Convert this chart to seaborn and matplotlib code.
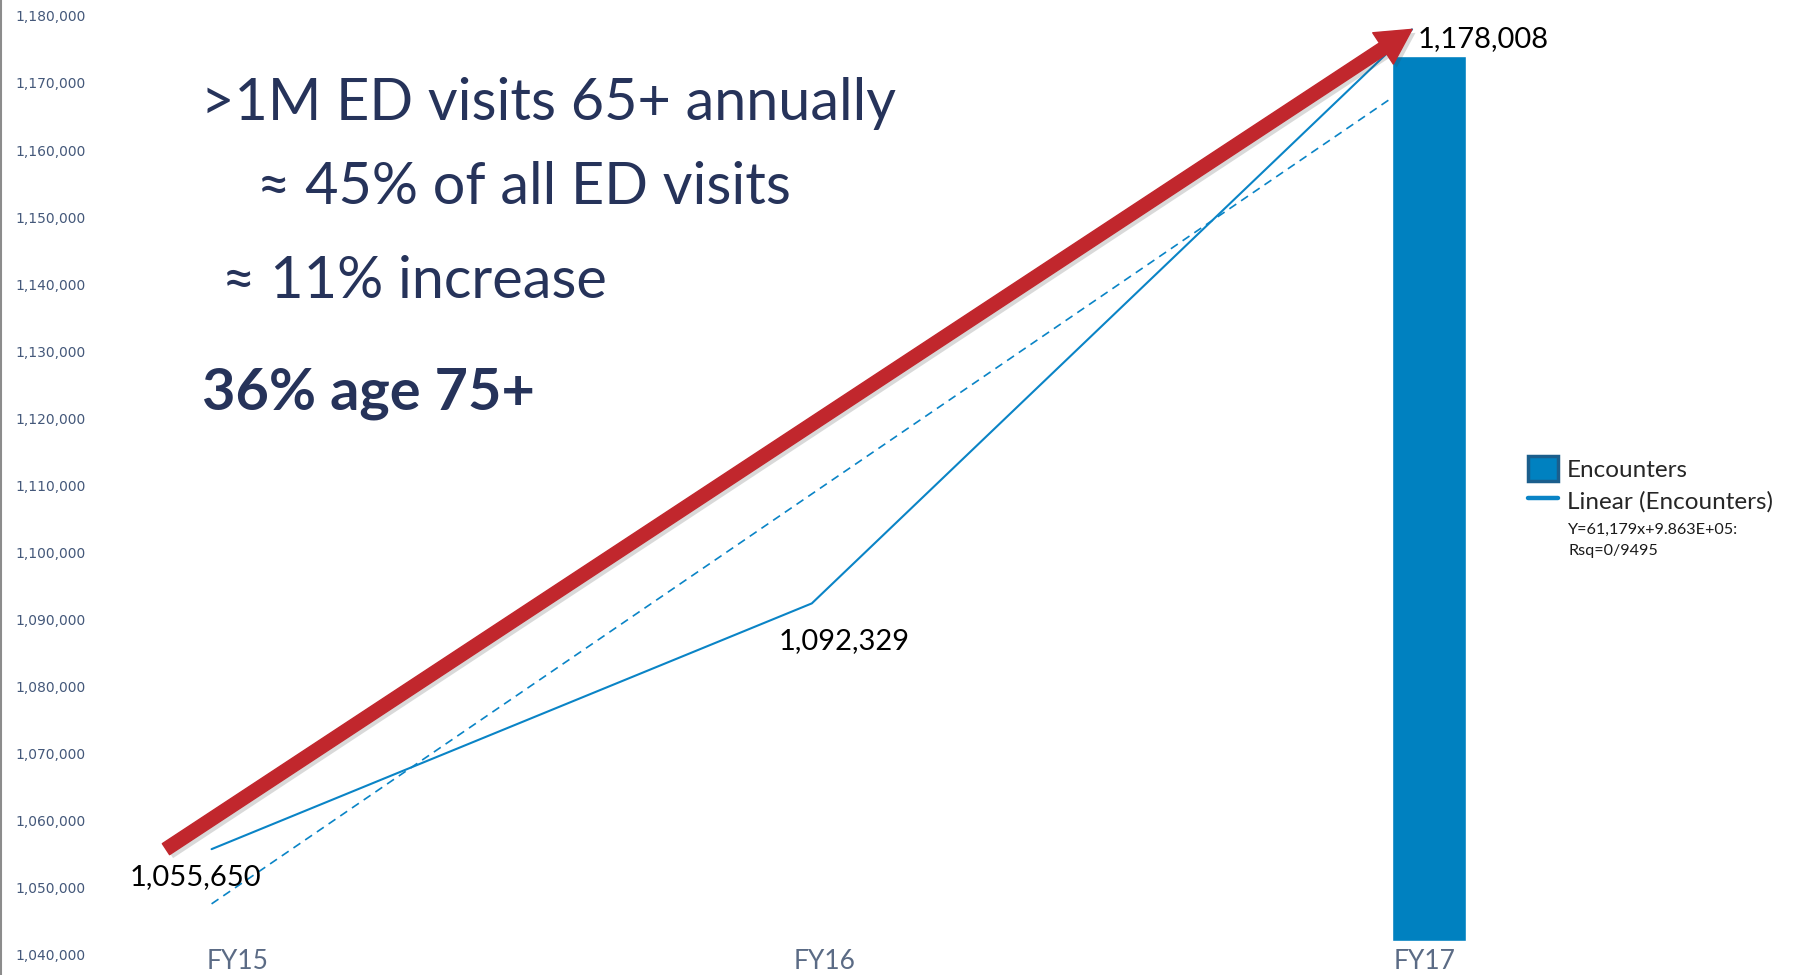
import numpy as np
import pandas as pd
import matplotlib
matplotlib.use("Agg")
import matplotlib.pyplot as plt
import seaborn as sns
from matplotlib import patheffects as pe
from matplotlib.patches import Patch
from matplotlib.lines import Line2D
from matplotlib.ticker import FuncFormatter
from matplotlib.transforms import ScaledTranslation

# ---- data ----
fiscal_years = ["FY15", "FY16", "FY17"]
encounters = [1055650, 1092329, 1178008]
bar_base = 1041900
bar_top = 1174000
y_ticks = list(range(1040000, 1180001, 10000))
headline = [">1M ED visits 65+ annually", "\u2248 45% of all ED visits", "\u2248 11% increase"]
highlight = "36% age 75+"
legend_labels = ["Encounters", "Linear (Encounters)"]
trend_note = ["Y=61,179x+9.863E+05:", "Rsq=0/9495"]

# ---- style ----
sns.set_theme(style="white")
plt.rcParams["font.family"] = ["Lato", "DejaVu Sans"]

BAR_BLUE = "#0081C0"
LINE_BLUE = "#0A84C6"
RED = "#C1272D"
NAVY = "#26335A"

W, H = 1795, 975
fig = plt.figure(figsize=(W / 100, H / 100), dpi=100)
ax = fig.add_axes([0.0006, 0, 0.9994, 1])

x = np.arange(len(fiscal_years))
df = pd.DataFrame({"x": x, "encounters": encounters})

# linear trend (dashed) fitted through the three years
sns.regplot(data=df, x="x", y="encounters", ci=None, scatter=False, truncate=True,
            line_kws=dict(color=LINE_BLUE, lw=1.2, ls=(0, (5, 3.5)), zorder=2), ax=ax)

# FY17 encounters column
ax.bar(x[-1] + 0.028, bar_top - bar_base, bottom=bar_base, width=0.124,
       color=BAR_BLUE, zorder=3)

# yearly encounters line
sns.lineplot(data=df, x="x", y="encounters", color=LINE_BLUE, lw=1.5, ax=ax, zorder=4)

# growth arrow
ax.annotate("", xy=(x[-1], encounters[-1]), xytext=(x[0] - 0.076, encounters[0]),
            arrowprops=dict(arrowstyle="simple,head_length=2.5,head_width=2.7,tail_width=0.95",
                            mutation_scale=10, color=RED, shrinkA=0, shrinkB=0,
                            path_effects=[pe.SimplePatchShadow(offset=(2.5, -2.5), alpha=0.2,
                                                               shadow_rgbFace="#444444"),
                                          pe.Normal()]),
            zorder=5)

# value labels
label_offsets = [(-11.5, -20, "center"), (23, -27, "center"), (4, -7, "left")]
for xi, v, (dx, dy, ha) in zip(x, encounters, label_offsets):
    ax.annotate(f"{v:,}", xy=(xi, v), xytext=(dx, dy), textcoords="offset points",
                ha=ha, va="center", fontsize=21, color="black", zorder=6)

# axes
ax.set_xlim(-0.3507, 2.638)
ax.set_ylim(1036866, 1182388)
ax.set_yticks(y_ticks)
ax.yaxis.set_major_formatter(FuncFormatter(lambda v, p: f"{v:,.0f}"))
ax.set_xticks(x, fiscal_years)
ax.set_xlabel("")
ax.set_ylabel("")
ax.tick_params(axis="y", pad=-10, length=0, labelsize=10, labelcolor="#44587A")
ax.tick_params(axis="x", pad=-18.5, length=0, labelsize=19, labelcolor="#5B6B85")
for lbl in ax.get_yticklabels():
    lbl.set_ha("left")
    lbl.set_family("DejaVu Sans")
# nudge the year labels to the right of their points
for lbl, shift in zip(ax.get_xticklabels(), (19, 9, 9)):
    lbl.set_transform(lbl.get_transform() + ScaledTranslation(shift / 72, 0, fig.dpi_scale_trans))
for side in ("top", "right", "bottom"):
    ax.spines[side].set_visible(False)
ax.spines["left"].set_color("#8C8C8C")
ax.spines["left"].set_linewidth(1.5)

# headline text
line_pos = [(201, 104), (257, 188), (222, 282)]
for (px, py), s in zip(line_pos, headline):
    fig.text(px / W, 1 - py / H, s, fontsize=41.5, color=NAVY, va="center", ha="left")
fig.text(202 / W, 1 - 393 / H, highlight, fontsize=41.5, color=NAVY, va="center",
         ha="left", fontweight="bold")

# legend
handles = [Patch(facecolor=BAR_BLUE, edgecolor="#1B5E8C", lw=2.5),
           Line2D([0], [0], color=LINE_BLUE, lw=3.2)]
fig.legend(handles, legend_labels, loc="upper left", bbox_to_anchor=(1528 / W, 1 - 456 / H),
           frameon=False, fontsize=17.5, handlelength=1.25, handleheight=1.23,
           handletextpad=0.35, labelspacing=0.24, borderpad=0, borderaxespad=0)
for py, s in zip((530, 551), trend_note):
    fig.text(1568 / W, 1 - py / H, s, fontsize=11.6, color="#1A1A1A", va="center", ha="left")

fig.savefig("out.png", dpi=100)
